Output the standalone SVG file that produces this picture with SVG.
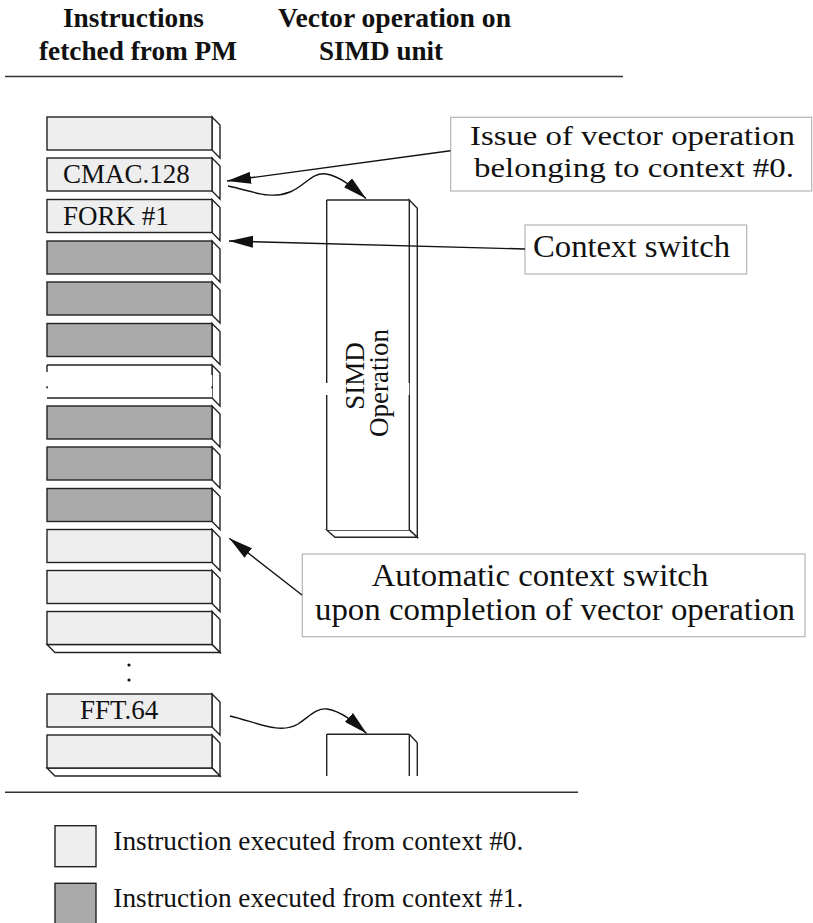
<svg xmlns="http://www.w3.org/2000/svg" width="813" height="923" viewBox="0 0 813 923">
<style>
text{font-family:"Liberation Serif","Times New Roman",serif;fill:#111}
.hd{font-size:27px;font-weight:bold}
.t27{font-size:27px}
.t32{font-size:32.5px}
.t28{font-size:28px}
.light{fill:#eeeeee;stroke:#222;stroke-width:1.4}
.dark{fill:#aaaaaa;stroke:#222;stroke-width:1.4}
.face{fill:#ffffff;stroke:#222;stroke-width:1.4;stroke-linejoin:miter}
.ln{fill:none;stroke:#222;stroke-width:1.4}
.rule{stroke:#333;stroke-width:1.6}
.callout{fill:#ffffff;stroke:#b4b4b4;stroke-width:1.2}
.conn{fill:none;stroke:#111;stroke-width:1.4}
</style>
<defs>
<marker id="ah" viewBox="0 0 24 12" refX="24" refY="6" markerWidth="24" markerHeight="12" markerUnits="userSpaceOnUse" orient="auto">
<path d="M0,0 L24,6 L0,12 z" fill="#111"/>
</marker>
</defs>
<rect width="813" height="923" fill="#ffffff"/>

<g id="headers">
<text class="hd" x="63" y="27" textLength="141" lengthAdjust="spacingAndGlyphs">Instructions</text>
<text class="hd" x="39" y="60" textLength="198" lengthAdjust="spacingAndGlyphs">fetched from PM</text>
<text class="hd" x="278" y="27" textLength="233" lengthAdjust="spacingAndGlyphs">Vector operation on</text>
<text class="hd" x="319" y="60" textLength="124" lengthAdjust="spacingAndGlyphs">SIMD unit</text>
<line class="rule" x1="5" y1="76.5" x2="623" y2="76.5"/>
</g>

<g id="blk1"><polygon class="face" points="212,117 220,125 220,158 212,150"/><rect class="light" x="47" y="117" width="165" height="33"/></g>
<g id="blk2"><polygon class="face" points="212,158 220,166 220,199 212,191"/><rect class="light" x="47" y="158" width="165" height="33"/><text class="t27" x="63" y="183.3">CMAC.128</text></g>
<g id="blk3"><polygon class="face" points="212,199.5 220,207.5 220,240.5 212,232.5"/><rect class="light" x="47" y="199.5" width="165" height="33"/><text class="t27" x="63" y="225">FORK #1</text></g>
<g id="blk4"><polygon class="face" points="212,241 220,249 220,282 212,274"/><rect class="dark" x="47" y="241" width="165" height="33"/></g>
<g id="blk5"><polygon class="face" points="212,282 220,290 220,323 212,315"/><rect class="dark" x="47" y="282" width="165" height="33"/></g>
<g id="blk6"><polygon class="face" points="212,323.5 220,331.5 220,364.5 212,356.5"/><rect class="dark" x="47" y="323.5" width="165" height="33"/></g>
<g id="blk7">
<polygon class="face" points="212,365 220,373 220,406 212,398"/>
<rect x="47" y="365" width="165" height="33" fill="#ffffff"/>
<line class="ln" x1="47" y1="365" x2="212" y2="365"/>
<line class="ln" x1="47" y1="398" x2="212" y2="398"/>
<line class="ln" x1="47" y1="365" x2="47" y2="372"/>
<line class="ln" x1="212" y1="365" x2="212" y2="375"/>
<rect x="46.3" y="386.3" width="1.6" height="2" fill="#222"/>
<rect x="211.3" y="386.3" width="1.6" height="2" fill="#222"/>
</g>
<g id="blk8"><polygon class="face" points="212,406 220,414 220,447 212,439"/><rect class="dark" x="47" y="406" width="165" height="33"/></g>
<g id="blk9"><polygon class="face" points="212,447 220,455 220,488 212,480"/><rect class="dark" x="47" y="447" width="165" height="33"/></g>
<g id="blk10"><polygon class="face" points="212,488.5 220,496.5 220,529.5 212,521.5"/><rect class="dark" x="47" y="488.5" width="165" height="33"/></g>
<g id="blk11"><polygon class="face" points="212,529.5 220,537.5 220,570.5 212,562.5"/><rect class="light" x="47" y="529.5" width="165" height="33"/></g>
<g id="blk12"><polygon class="face" points="212,570.5 220,578.5 220,611.5 212,603.5"/><rect class="light" x="47" y="570.5" width="165" height="33"/></g>
<g id="blk13"><polygon class="face" points="212,611.5 220,619.5 220,652.5 212,644.5"/><polygon class="face" points="47,644.5 212,644.5 220,652.5 55,652.5"/><rect class="light" x="47" y="611.5" width="165" height="33"/></g>
<g id="dots"><circle cx="129" cy="665" r="1.6" fill="#111"/><circle cx="129" cy="680" r="1.6" fill="#111"/></g>
<g id="blk14"><polygon class="face" points="212,694 220,702 220,735 212,727"/><rect class="light" x="47" y="694" width="165" height="33"/><text class="t27" x="80" y="719">FFT.64</text></g>
<g id="blk15"><polygon class="face" points="212,735 220,743 220,776 212,768"/><polygon class="face" points="47,768 212,768 220,776 55,776"/><rect class="light" x="47" y="735" width="165" height="33"/></g>

<g id="simd">
<polygon class="face" points="409.3,200 417.3,208.3 417.3,537.3 409.3,530"/>
<polygon class="face" points="326.7,530 409.3,530 417.3,537.3 335,537.3"/>
<rect x="326.7" y="200" width="82.6" height="330" fill="#ffffff"/>
<line class="ln" x1="326.7" y1="200" x2="409.3" y2="200"/>
<line class="ln" x1="326.7" y1="200" x2="326.7" y2="383"/>
<line class="ln" x1="326.7" y1="395" x2="326.7" y2="530"/>
<line class="ln" x1="409.3" y1="200" x2="409.3" y2="383"/>
<line class="ln" x1="409.3" y1="395" x2="409.3" y2="530"/>
<text class="t27" transform="translate(364,376) rotate(-90)" text-anchor="middle">SIMD</text>
<text class="t27" transform="translate(388,383) rotate(-90)" text-anchor="middle">Operation</text>
</g>

<g id="simd2">
<line class="ln" x1="326.7" y1="734.3" x2="409.3" y2="734.3"/>
<line class="ln" x1="409.3" y1="734.3" x2="417.3" y2="742.7"/>
<line class="ln" x1="326.7" y1="734.3" x2="326.7" y2="776"/>
<line class="ln" x1="409.3" y1="734.3" x2="409.3" y2="776"/>
<line class="ln" x1="417.3" y1="742.7" x2="417.3" y2="776"/>
</g>

<g id="callout-issue">
<rect class="callout" x="450.7" y="117.3" width="361" height="73.7"/>
<text class="t28" x="470" y="145" textLength="325" lengthAdjust="spacingAndGlyphs">Issue of vector operation</text>
<text class="t28" x="474" y="176.5" textLength="320" lengthAdjust="spacingAndGlyphs">belonging to context #0.</text>
</g>
<g id="callout-switch">
<rect class="callout" x="525" y="225" width="221.7" height="49"/>
<text class="t32" x="533" y="257" textLength="197" lengthAdjust="spacingAndGlyphs">Context switch</text>
</g>
<g id="callout-auto">
<rect class="callout" x="302.3" y="554" width="502.7" height="82.7"/>
<text class="t32" x="371.7" y="585.7" textLength="336.6" lengthAdjust="spacingAndGlyphs">Automatic context switch</text>
<text class="t32" x="315" y="620" textLength="480" lengthAdjust="spacingAndGlyphs">upon completion of vector operation</text>
</g>

<g id="connectors">
<line class="conn" x1="450.5" y1="150.7" x2="227" y2="181" marker-end="url(#ah)"/>
<path class="conn" d="M228,186 C252,191 270,200 290,192 C305,186 312,172 326,174 C340,176 354,188 366,198.5" marker-end="url(#ah)"/>
<line class="conn" x1="525" y1="249" x2="229" y2="241" marker-end="url(#ah)"/>
<line class="conn" x1="302" y1="595" x2="229.3" y2="538.3" marker-end="url(#ah)"/>
<path class="conn" d="M230,716 C256,722 280,735 298,724 C310,716 316,708 327,709 C341,711 354,722 366.7,733.5" marker-end="url(#ah)"/>
</g>

<line class="rule" x1="5" y1="792.3" x2="578" y2="792.3"/>

<g id="legend">
<rect class="light" x="55" y="825.7" width="41" height="41"/>
<text class="t27" x="113.3" y="850" textLength="410" lengthAdjust="spacingAndGlyphs">Instruction executed from context #0.</text>
<rect class="dark" x="55" y="883.3" width="41" height="41"/>
<text class="t27" x="113.3" y="906.7" textLength="410" lengthAdjust="spacingAndGlyphs">Instruction executed from context #1.</text>
</g>
</svg>
